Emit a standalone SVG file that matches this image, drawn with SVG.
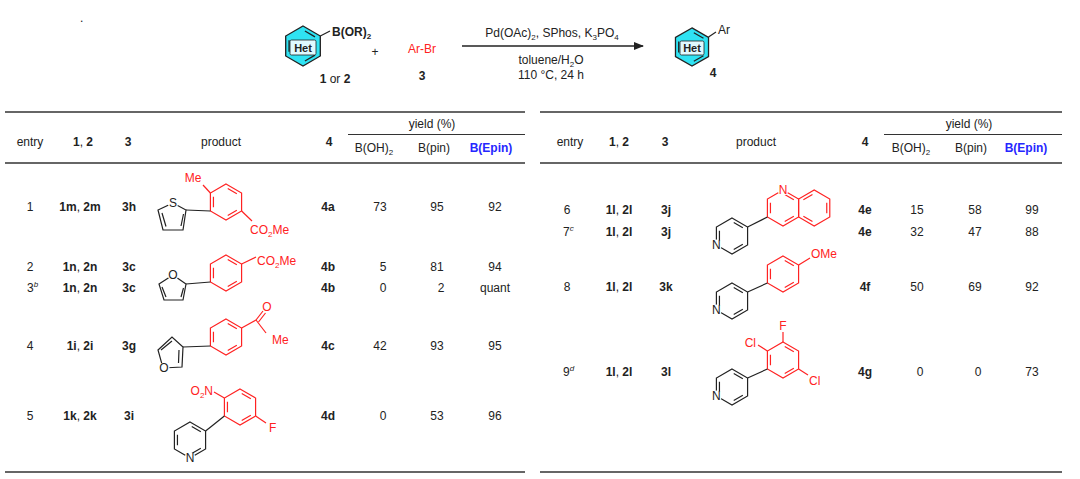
<svg xmlns="http://www.w3.org/2000/svg" xmlns:xlink="http://www.w3.org/1999/xlink" width="1080" height="479" viewBox="0 0 1080 479">
<style>
text{font-family:"Liberation Sans",Arial,sans-serif;font-size:12px;fill:#222}
.b{font-weight:bold}
.c{text-anchor:middle}
.e{text-anchor:end}
.r{fill:#f22}
.blue{fill:#2626ff;font-weight:bold}
.mask{fill:#fff;stroke:none}
.bk{stroke:#222;fill:none;stroke-width:1.2}
.rd{stroke:#f22;fill:none;stroke-width:1.2}
.rule{stroke:#333;stroke-width:1.5}
.thin{stroke:#333;stroke-width:1.2}
.s{font-size:8px}
</style>
<defs>
<g id="bz"><polygon points="0,-18 15.59,-9 15.59,9 0,18 -15.59,9 -15.59,-9"/><path d="M1.73,-13.5L10.83,-8.25M10.83,8.25L1.73,13.5M-12.56,5.25L-12.56,-5.25"/></g>
<marker id="ah" markerWidth="10" markerHeight="8" refX="9" refY="4" orient="auto" markerUnits="userSpaceOnUse"><path d="M0,0L10,4L0,8z" fill="#222"/></marker>
</defs>
<text x="80" y="22">.</text>
<g id="reactant">
<g transform="translate(303,46) scale(1.11)"><use href="#bz" class="bk" style="fill:#2fe3f3"/></g>
<rect x="290" y="40" width="26" height="15" rx="1.5" fill="#dffaff" stroke="#222" stroke-width="0.8"/>
<text x="303" y="51.5" class="b c" style="font-size:11px">Het</text>
<line x1="320.3" y1="36" x2="330" y2="31" class="bk"/>
<text x="332" y="36" class="b">B(OR)<tspan class="s" dy="3">2</tspan></text>
<text x="335" y="83" class="c"><tspan class="b">1</tspan> or <tspan class="b">2</tspan></text>
</g>
<text x="375" y="56" class="c">+</text>
<g id="arbr"><text x="422" y="53" class="c r">Ar-Br</text><text x="422" y="80" class="c b">3</text></g>
<g id="conn"><line x1="462" y1="46" x2="643" y2="46" stroke="#222" stroke-width="1.3" marker-end="url(#ah)"/></g>
<text x="552" y="37" class="c">Pd(OAc)<tspan class="s" dy="3">2</tspan><tspan dy="-3">, SPhos, K</tspan><tspan class="s" dy="3">3</tspan><tspan dy="-3">PO</tspan><tspan class="s" dy="3">4</tspan></text>
<text x="551" y="64" class="c">toluene/H<tspan class="s" dy="3">2</tspan><tspan dy="-3">O</tspan></text>
<text x="551" y="79" class="c">110 °C, 24 h</text>
<g id="prod4">
<g transform="translate(692,47) scale(1.06)"><use href="#bz" class="bk" style="fill:#2fe3f3"/></g>
<rect x="680" y="41" width="24" height="14" rx="1.5" fill="#dffaff" stroke="#222" stroke-width="0.8"/>
<text x="692" y="52" class="b c" style="font-size:11px">Het</text>
<line x1="708.5" y1="37" x2="716" y2="32" class="bk"/>
<text x="718" y="34">Ar</text>
<text x="713" y="77" class="b c">4</text>
</g>
<g id="rules">
<line x1="5" y1="112" x2="525" y2="112" class="rule"/>
<line x1="348" y1="134.5" x2="525" y2="134.5" class="thin"/>
<line x1="5" y1="163" x2="525" y2="163" class="rule"/>
<line x1="5" y1="472" x2="525" y2="472" class="rule"/>
<line x1="540" y1="112" x2="1062" y2="112" class="rule"/>
<line x1="884" y1="134.5" x2="1062" y2="134.5" class="thin"/>
<line x1="540" y1="163" x2="1062" y2="163" class="rule"/>
<line x1="540" y1="472" x2="1062" y2="472" class="rule"/>
</g>
<g id="hdrL">
<text x="30" y="146" class="c">entry</text>
<text x="83" y="146" class="c b">1<tspan font-weight="normal">, </tspan>2</text>
<text x="128" y="146" class="c b">3</text>
<text x="221" y="146" class="c">product</text>
<text x="329" y="146" class="c b">4</text>
<text x="432" y="128" class="c">yield (%)</text>
<text x="374" y="152" class="c">B(OH)<tspan class="s" dy="3">2</tspan></text>
<text x="434" y="152" class="c">B(pin)</text>
<text x="491" y="152" class="c blue">B(Epin)</text>
</g>
<g id="hdrR">
<text x="570" y="146" class="c">entry</text>
<text x="619" y="146" class="c b">1<tspan font-weight="normal">, </tspan>2</text>
<text x="665" y="146" class="c b">3</text>
<text x="756" y="146" class="c">product</text>
<text x="865" y="146" class="c b">4</text>
<text x="969" y="128" class="c">yield (%)</text>
<text x="911" y="152" class="c">B(OH)<tspan class="s" dy="3">2</tspan></text>
<text x="971" y="152" class="c">B(pin)</text>
<text x="1026" y="152" class="c blue">B(Epin)</text>
</g>
<g id="dataL">
<text x="30" y="211" class="c">1</text><text x="80" y="211" class="c b">1m<tspan font-weight="normal">, </tspan>2m</text><text x="129" y="211" class="c b">3h</text><text x="328" y="211" class="c b">4a</text><text x="380" y="211" class="c">73</text><text x="437" y="211" class="c">95</text><text x="495" y="211" class="c">92</text>
<text x="30" y="271" class="c">2</text><text x="80" y="271" class="c b">1n<tspan font-weight="normal">, </tspan>2n</text><text x="129" y="271" class="c b">3c</text><text x="328" y="271" class="c b">4b</text><text x="383" y="271" class="c">5</text><text x="437" y="271" class="c">81</text><text x="495" y="271" class="c">94</text>
<text x="27" y="292">3<tspan class="s" font-style="italic" dy="-5">b</tspan></text><text x="80" y="292" class="c b">1n<tspan font-weight="normal">, </tspan>2n</text><text x="129" y="292" class="c b">3c</text><text x="328" y="292" class="c b">4b</text><text x="383" y="292" class="c">0</text><text x="441" y="292" class="c">2</text><text x="495" y="292" class="c">quant</text>
<text x="30" y="350" class="c">4</text><text x="80" y="350" class="c b">1i<tspan font-weight="normal">, </tspan>2i</text><text x="129" y="350" class="c b">3g</text><text x="328" y="350" class="c b">4c</text><text x="380" y="350" class="c">42</text><text x="437" y="350" class="c">93</text><text x="495" y="350" class="c">95</text>
<text x="30" y="420" class="c">5</text><text x="80" y="420" class="c b">1k<tspan font-weight="normal">, </tspan>2k</text><text x="129" y="420" class="c b">3i</text><text x="328" y="420" class="c b">4d</text><text x="383" y="420" class="c">0</text><text x="437" y="420" class="c">53</text><text x="495" y="420" class="c">96</text>
</g>
<g id="dataR">
<text x="567" y="214" class="c">6</text><text x="619" y="214" class="c b">1l<tspan font-weight="normal">, </tspan>2l</text><text x="666" y="214" class="c b">3j</text><text x="865" y="214" class="c b">4e</text><text x="917" y="214" class="c">15</text><text x="975" y="214" class="c">58</text><text x="1032" y="214" class="c">99</text>
<text x="563" y="236">7<tspan class="s" font-style="italic" dy="-5">c</tspan></text><text x="619" y="236" class="c b">1l<tspan font-weight="normal">, </tspan>2l</text><text x="666" y="236" class="c b">3j</text><text x="865" y="236" class="c b">4e</text><text x="917" y="236" class="c">32</text><text x="975" y="236" class="c">47</text><text x="1032" y="236" class="c">88</text>
<text x="567" y="291" class="c">8</text><text x="619" y="291" class="c b">1l<tspan font-weight="normal">, </tspan>2l</text><text x="666" y="291" class="c b">3k</text><text x="865" y="291" class="c b">4f</text><text x="917" y="291" class="c">50</text><text x="975" y="291" class="c">69</text><text x="1032" y="291" class="c">92</text>
<text x="563" y="376">9<tspan class="s" font-style="italic" dy="-5">d</tspan></text><text x="619" y="376" class="c b">1l<tspan font-weight="normal">, </tspan>2l</text><text x="666" y="376" class="c b">3l</text><text x="865" y="376" class="c b">4g</text><text x="920" y="376" class="c">0</text><text x="978" y="376" class="c">0</text><text x="1032" y="376" class="c">73</text>
</g>
<g id="m4a">
<use href="#bz" x="226" y="202" class="rd"/>
<line x1="210.4" y1="193" x2="203" y2="185" class="rd"/><text x="193" y="182" class="c r">Me</text>
<line x1="241.6" y1="211" x2="252" y2="221" class="rd"/><text x="250" y="234" class="r">CO<tspan class="s" dy="3">2</tspan><tspan dy="-3">Me</tspan></text>
<path d="M210.4,211L186,210" class="bk"/>
<path d="M173,203L186,210L183,230L163,230L158,210Z M183.5,214L181,226 M166,226.5L162,213" class="bk"/>
<circle cx="173" cy="202.5" r="5.5" class="mask"/>
<text x="173" y="207" class="c">S</text>
</g>
<g id="m4b">
<use href="#bz" x="226" y="273" class="rd"/>
<line x1="241.6" y1="264" x2="256" y2="257" class="rd"/><text x="257" y="265" class="r">CO<tspan class="s" dy="3">2</tspan><tspan dy="-3">Me</tspan></text>
<path d="M210.4,282L186,284" class="bk"/>
<path d="M173,275L186,284L183,300L164,300L159,284Z M183.5,288L181,297 M166,297L162,287" class="bk"/>
<circle cx="173" cy="275" r="5.5" class="mask"/>
<text x="173" y="279" class="c">O</text>
</g>
<g id="m4c">
<use href="#bz" x="226" y="337" class="rd"/>
<line x1="241.6" y1="328" x2="256" y2="320" class="rd"/>
<path d="M256,320L263,311 M258.5,322L265.5,313" class="rd"/>
<circle cx="267" cy="307" r="5" class="mask"/>
<text x="267" y="311" class="c r">O</text>
<line x1="256" y1="320" x2="266" y2="333" class="rd"/><text x="272" y="344" class="r">Me</text>
<path d="M210.4,346L183,347" class="bk"/>
<path d="M183,347L182,367L163,368L158,350L172,337Z M179,350L178.5,363 M161,350L172,341" class="bk"/>
<circle cx="164" cy="368" r="5.5" class="mask"/>
<text x="164" y="372" class="c">O</text>
</g>
<g id="m4d">
<use href="#bz" x="240" y="407" class="rd"/>
<line x1="224.4" y1="398" x2="214" y2="392" class="rd"/>
<text x="213" y="395" class="e r">O<tspan class="s" dy="3">2</tspan><tspan dy="-3">N</tspan></text>
<line x1="255.6" y1="416" x2="266" y2="423" class="rd"/><text x="269" y="432" class="r">F</text>
<line x1="205.6" y1="431" x2="224.4" y2="416" class="bk"/>
<use href="#bz" x="190" y="440" class="bk"/>
<circle cx="190" cy="458" r="5.5" class="mask"/>
<text x="190" y="462" class="c">N</text>
</g>
<g id="m4e">
<use href="#bz" x="783" y="208" class="rd"/>
<g transform="translate(814.2,208) rotate(60)"><use href="#bz" class="rd"/></g>
<circle cx="783" cy="190" r="5.5" class="mask"/>
<text x="783" y="194" class="c r">N</text>
<line x1="747.6" y1="227" x2="767.4" y2="217" class="bk"/>
<use href="#bz" x="732" y="236" class="bk"/>
<circle cx="716.4" cy="245" r="5.5" class="mask"/>
<text x="716.4" y="249" class="c">N</text>
</g>
<g id="m4f">
<use href="#bz" x="783" y="274" class="rd"/>
<line x1="798.6" y1="265" x2="810" y2="258" class="rd"/><text x="811" y="258" class="r">OMe</text>
<line x1="747.6" y1="292" x2="767.4" y2="283" class="bk"/>
<use href="#bz" x="732" y="301" class="bk"/>
<circle cx="716.4" cy="310" r="5.5" class="mask"/>
<text x="716.4" y="314" class="c">N</text>
</g>
<g id="m4g">
<use href="#bz" x="783" y="360" class="rd"/>
<line x1="783" y1="342" x2="783" y2="332" class="rd"/><text x="783" y="330" class="c r">F</text>
<line x1="767.4" y1="351" x2="758" y2="345" class="rd"/><text x="756" y="347" class="e r">Cl</text>
<line x1="798.6" y1="369" x2="808" y2="375" class="rd"/><text x="809" y="385" class="r">Cl</text>
<line x1="747.6" y1="378" x2="767.4" y2="369" class="bk"/>
<use href="#bz" x="732" y="387" class="bk"/>
<circle cx="716.4" cy="396" r="5.5" class="mask"/>
<text x="716.4" y="400" class="c">N</text>
</g>
</svg>
